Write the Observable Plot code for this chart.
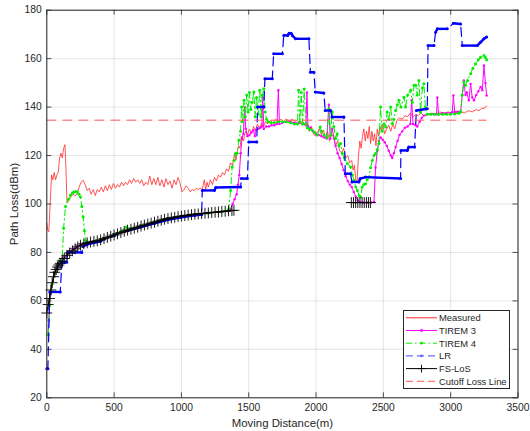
<!DOCTYPE html>
<html><head><meta charset="utf-8">
<script src="https://cdn.jsdelivr.net/npm/d3@7"></script>
<script src="https://cdn.jsdelivr.net/npm/@observablehq/plot@0.6"></script>
<style>
body{margin:0;background:#fff;font-family:"Liberation Sans",Arial,sans-serif;}
#wrap{position:relative;width:530px;height:431px;}
#legend{position:absolute;left:403px;top:310px;}
</style></head><body><div id="wrap"></div>
<script>
// ---- data (distance m, path loss dBm) ----
const xTicks = [0,500,1000,1500,2000,2500,3000,3500];
const yTicks = [20,40,60,80,100,120,140,160,180];
const cutoffLoss = 134.6;
const cutoffEnd = 3270;

const measured = [[0,92],[8,89],[15,88.5],[25,100],[35,112],[45,110],[55,113],[65,110],[75,112],[85,113],[95,119],[105,121],[115,119],[125,123],[135,124.5],[142,115],[150,100.5],[165,101.5],[180,103],[195,104],[210,103.5],[225,104],[240,107],[255,109],[270,109.8],[285,108],[300,105.5],[315,106.5],[330,104],[345,106],[360,103.5],[375,106],[390,105],[405,107],[420,105],[435,107.5],[450,105.5],[465,108],[480,106],[495,108.5],[510,106.5],[525,108],[540,107],[555,109],[570,107.5],[585,109],[600,108],[615,110],[630,108.5],[645,110.5],[660,109],[675,110],[690,108.5],[705,110],[720,107.5],[735,109],[750,108],[765,111.5],[780,108],[795,110.5],[810,108],[825,111],[840,107.5],[855,110],[870,107],[885,110.5],[900,108],[915,109.5],[930,106.5],[945,110],[960,108],[975,111],[990,108.5],[1005,105],[1020,106],[1035,107.5],[1050,106.5],[1065,105],[1080,106],[1095,105.5],[1110,106.5],[1125,106],[1140,106.5],[1155,106],[1170,110],[1180,106],[1190,109],[1200,107],[1215,110],[1230,108],[1245,111],[1260,109.5],[1275,112],[1290,111],[1305,113],[1320,112],[1335,114.5],[1350,113.5],[1365,117],[1380,116],[1395,121],[1405,118],[1415,122],[1425,124],[1435,123],[1445,128],[1460,126],[1475,130],[1490,128.5],[1505,131],[1520,129],[1535,132],[1550,130.5],[1565,133],[1580,131],[1595,133.5],[1610,132],[1625,134],[1640,133],[1660,134.5],[1680,133.5],[1700,135],[1720,134],[1740,135],[1760,134],[1780,135.2],[1800,134],[1820,135],[1840,134],[1860,134.5],[1880,133.5],[1900,134],[1920,133],[1935,133.5],[1950,130],[1965,132],[1980,129],[1995,128],[2010,129.5],[2025,131],[2040,128.5],[2055,130.5],[2070,127],[2085,130],[2100,126],[2115,129],[2130,127.5],[2145,124],[2160,126],[2175,122],[2190,121],[2205,123],[2220,119],[2235,120],[2250,117],[2265,118],[2275,114],[2285,116],[2295,110],[2305,109.5],[2315,120],[2325,126],[2335,123],[2345,128],[2355,131],[2365,126],[2375,130],[2385,127],[2395,132],[2405,125],[2415,130],[2425,126],[2435,129],[2445,124],[2455,131],[2465,128],[2475,132],[2485,130],[2495,133],[2510,129],[2525,131],[2540,132.5],[2555,130],[2570,133],[2585,131],[2600,134.5],[2620,135.5],[2640,135],[2660,136.5],[2680,136],[2700,137.5],[2720,136],[2740,137],[2760,136.5],[2780,137.5],[2800,136.5],[2830,137],[2860,137.5],[2890,137],[2920,138],[2950,137.5],[2980,138],[3010,137.5],[3040,138],[3070,138.5],[3100,137.5],[3130,138.5],[3160,138],[3190,139],[3210,138.5],[3230,139.5],[3250,139.5],[3265,140.5]];

const tirem3 = [[10,46],[15,52],[20,58],[30,63],[40,67],[55,71],[70,73.5],[85,75.5],[100,76.5],[125,78],[150,79],[175,80.5],[200,81.5],[225,82.3],[250,83],[300,84],[400,85],[500,87.3],[600,89.2],[700,90.9],[800,92.5],[900,94],[1000,95],[1100,95.8],[1200,96.3],[1300,96.8],[1350,97],[1365,98],[1380,100],[1395,102],[1410,104],[1420,108],[1430,112],[1440,121],[1450,127],[1460,129],[1470,140],[1478,131],[1490,128],[1505,128.5],[1520,129.5],[1535,130.5],[1545,128],[1555,130.5],[1570,131],[1585,131.5],[1598,132],[1604,144],[1612,131],[1630,132],[1650,132],[1670,132.5],[1690,132.5],[1710,133],[1720,147],[1728,133],[1750,133.5],[1780,134],[1810,134],[1840,133.5],[1870,133.5],[1900,133],[1925,132.5],[1932,146],[1940,132],[1960,131.5],[1980,130],[2000,129],[2020,128.5],[2040,128],[2060,127.5],[2080,127],[2095,141],[2105,127],[2120,131],[2135,127],[2145,124],[2160,121],[2175,119],[2190,116.5],[2205,114],[2220,111.5],[2235,109.5],[2250,108],[2265,107],[2280,105],[2295,103],[2310,101.5],[2325,100.8],[2350,100.6],[2380,100.6],[2410,100.6],[2430,100.8],[2442,115],[2455,122],[2467,126],[2480,127.5],[2495,126.5],[2510,125.5],[2525,124],[2540,122],[2555,120],[2566,119],[2578,121],[2591,123.5],[2605,126],[2620,128.5],[2640,130],[2660,131.5],[2680,132],[2700,133],[2710,142.8],[2720,133],[2740,132.5],[2752,132],[2770,134],[2785,135.5],[2800,136.5],[2825,137],[2850,137],[2875,137],[2895,137],[2901,144],[2910,137],[2940,137.5],[2970,137.5],[3000,137.5],[3012,138],[3020,144.8],[3030,138],[3050,138],[3074,138],[3086,145],[3098,151],[3110,145],[3120,146],[3135,142.8],[3148,149.6],[3160,144],[3173,142.8],[3190,145],[3205,146.5],[3222,148.3],[3235,147],[3247,157.2],[3258,150],[3267,144.8]];

const tirem4 = [[10,46],[20,58],[40,67],[60,71.5],[80,74],[100,76],[114,77.5],[125,90],[139,99],[160,102],[176,103.6],[190,104.5],[201,105],[215,105.2],[226,105],[240,104],[250,102.9],[260,99],[270,94.6],[280,89],[288,85],[300,84],[400,85.3],[500,87.4],[560,89],[590,90.5],[610,89.8],[700,91],[800,92.5],[900,94],[1000,95],[1100,95.8],[1200,96.3],[1300,96.8],[1345,97.2],[1352,98],[1365,105.6],[1377,115.3],[1390,118],[1402,120.8],[1414,121],[1427,126.3],[1439,130],[1447,140],[1455,134],[1465,142.8],[1475,136],[1485,145],[1495,138],[1505,146],[1515,139],[1525,142],[1538,146.2],[1548,136],[1558,144],[1570,137],[1582,147],[1592,136],[1600,145],[1612,147.6],[1622,138],[1632,135],[1645,134],[1665,133.5],[1690,133.5],[1720,134],[1750,134],[1780,134],[1810,133.5],[1840,133],[1862,133],[1870,147],[1880,134],[1890,146],[1900,133],[1912,147.5],[1925,133],[1935,131.5],[1950,131],[1970,130.5],[1990,129.5],[2010,128.5],[2030,131.8],[2040,130],[2060,128.5],[2080,127.5],[2095,139.3],[2108,128.3],[2120,138],[2132,132],[2145,127],[2157,129],[2170,124],[2182,125],[2195,120.8],[2210,119],[2232,116.7],[2256,115.3],[2270,112],[2281,109.8],[2295,107],[2306,105.6],[2320,103.5],[2331,102.9],[2343,107],[2355,108],[2368,108.4],[2380,110],[2393,111.1],[2405,115],[2418,118],[2430,120],[2442,120.8],[2455,122.5],[2467,125],[2479,140],[2490,130],[2505,133],[2517,131.8],[2528,138],[2540,135],[2554,140],[2566,133.2],[2578,135],[2591,138.6],[2604,141],[2616,142.8],[2630,140],[2653,144.1],[2665,140],[2680,145],[2702,147],[2715,142],[2728,149],[2740,149],[2752,145],[2764,151],[2776,138],[2790,148],[2801,149.6],[2812,140],[2826,137],[2851,137],[2880,137],[2910,137],[2940,137],[2970,137],[3000,137],[3030,137.2],[3060,137.5],[3074,138],[3086,145],[3098,150.4],[3110,149],[3125,151],[3148,153.8],[3165,156],[3185,157.9],[3205,159.5],[3222,160.6],[3247,161.3],[3258,160.5],[3267,159.5]];

const lr = [[0,32],[8,32],[22,63.7],[100,63.7],[112,76],[148,76],[155,80],[260,80],[270,82.5],[300,83.3],[400,84.6],[500,87],[600,89],[700,90.5],[800,92],[900,93.5],[1000,94.5],[1100,95.3],[1150,95.6],[1155,105.6],[1245,105.6],[1255,106.8],[1440,107],[1445,110.5],[1490,110.5],[1500,125.6],[1560,125.6],[1565,140],[1612,140],[1620,151.7],[1675,151.7],[1685,162],[1750,162],[1760,169.6],[1790,169.6],[1800,170.5],[1815,170.5],[1825,169.5],[1848,168.2],[1947,168.2],[1958,154.4],[1984,154.4],[1994,146.2],[2058,145.8],[2068,138.6],[2108,138.6],[2118,135.9],[2207,135.9],[2217,112.5],[2256,112.5],[2266,109.1],[2318,109.1],[2328,110.5],[2368,111.1],[2628,110.5],[2630,122.1],[2678,122.1],[2688,123.5],[2732,123.5],[2745,138.6],[2826,139.3],[2832,165.4],[2876,165.4],[2888,170.9],[2901,172.3],[2975,172.3],[3020,174.6],[3074,174.3],[3086,165.4],[3198,165.4],[3222,166.8],[3247,168.2],[3267,168.9]];

const fsLos1 = [[0,55],[10,58.5],[20,61],[30,64.5],[40,67.5],[50,70],[60,71.8],[70,73],[80,74],[90,74.8],[100,75.5],[115,76.5],[130,77.5],[150,78.8],[170,79.8],[190,80.7],[210,81.5],[230,82.3],[250,83],[275,83.6],[300,84],[325,84.3],[350,84.6],[375,84.8],[400,85.2],[425,85.7],[450,86.2],[475,86.7],[500,87.2],[525,87.7],[550,88.2],[575,88.7],[600,89.2],[625,89.6],[650,90],[675,90.4],[700,90.9],[725,91.3],[750,91.7],[775,92.1],[800,92.5],[825,92.9],[850,93.3],[875,93.7],[900,94],[925,94.3],[950,94.5],[975,94.8],[1000,95],[1025,95.2],[1050,95.4],[1075,95.6],[1100,95.8],[1125,95.9],[1150,96],[1175,96.2],[1200,96.3],[1225,96.5],[1250,96.6],[1275,96.7],[1300,96.9],[1325,97],[1350,97.2],[1375,97.3],[1390,97.4]];
const fsLos2 = [[2262,100.6],[2278,100.6],[2294,100.6],[2310,100.6],[2326,100.6],[2342,100.6],[2358,100.6],[2374,100.6],[2390,100.6],[2404,100.6]];

const seriesNames = ["Measured","TIREM 3","TIREM 4","LR","FS-LoS","Cutoff Loss Line"];

// ---- styles ----
const C = {meas:"#ff2a2a", t3:"#ff00ff", t4:"#00ee00", lr:"#0000ff", fs:"#000000", cut:"#ff5555"};
const X = d => d[0], Y = d => d[1];
const lrFlat = d3.pairs(lr).filter(([a,b]) => Math.abs(b[1]-a[1]) < 1.6);

const xTickLen = 37, yTickLen = 2.06;

const plot = Plot.plot({
  width: 530, height: 431,
  marginLeft: 46.3, marginRight: 12.5, marginTop: 9.7, marginBottom: 33.7,
  x: {domain: [0, 3500]},
  y: {domain: [20, 180]},
  style: {fontFamily: '"Liberation Sans", Arial, sans-serif', fontSize: "10.3px", color: "#262626", background: "white"},
  marks: [
    Plot.ruleX(xTicks, {stroke: "#000", strokeOpacity: 0.1, strokeWidth: 1}),
    Plot.ruleY(yTicks, {stroke: "#000", strokeOpacity: 0.1, strokeWidth: 1}),
    Plot.line(measured, {x: X, y: Y, stroke: C.meas, strokeWidth: 0.8}),
    Plot.line(tirem3, {x: X, y: Y, stroke: C.t3, strokeWidth: 1}),
    Plot.dot(tirem3, {x: X, y: Y, r: 1.2, fill: C.t3}),
    Plot.line(tirem4, {x: X, y: Y, stroke: C.t4, strokeWidth: 1, strokeDasharray: "6,3,1.5,3"}),
    Plot.dot(tirem4, {x: X, y: Y, r: 1.5, fill: C.t4}),
    Plot.line(lr, {x: X, y: Y, stroke: C.lr, strokeWidth: 1.2, strokeDasharray: "9,5"}),
    Plot.link(lrFlat, {x1: d => d[0][0], y1: d => d[0][1], x2: d => d[1][0], y2: d => d[1][1], stroke: C.lr, strokeWidth: 2.4}),
    Plot.dot(lr, {x: X, y: Y, r: 1.5, fill: C.lr}),
    Plot.line(fsLos1, {x: X, y: Y, stroke: C.fs, strokeWidth: 1}),
    Plot.dot(fsLos1, {x: X, y: Y, symbol: "plus", r: 3.6, stroke: C.fs, strokeWidth: 0.9}),
    Plot.line(fsLos2, {x: X, y: Y, stroke: C.fs, strokeWidth: 1}),
    Plot.dot(fsLos2, {x: X, y: Y, symbol: "plus", r: 3.6, stroke: C.fs, strokeWidth: 0.9}),
    Plot.ruleY([cutoffLoss], {x1: 0, x2: cutoffEnd, stroke: C.cut, strokeWidth: 1, strokeDasharray: "10,6"}),
    // inward ticks on all four sides
    Plot.ruleX(xTicks, {y1: 20, y2: 20 + yTickLen, stroke: "#262626", strokeWidth: 0.8}),
    Plot.ruleX(xTicks, {y1: 180 - yTickLen, y2: 180, stroke: "#262626", strokeWidth: 0.8}),
    Plot.ruleY(yTicks, {x1: 0, x2: xTickLen, stroke: "#262626", strokeWidth: 0.8}),
    Plot.ruleY(yTicks, {x1: 3500 - xTickLen, x2: 3500, stroke: "#262626", strokeWidth: 0.8}),
    Plot.frame({stroke: "#262626", strokeWidth: 1}),
    Plot.axisX(xTicks, {tickSize: 0, tickPadding: 6, label: null, fill: "#262626", tickFormat: d => String(d)}),
    Plot.axisY(yTicks, {tickSize: 0, tickPadding: 5, label: null, fill: "#262626", tickFormat: d => String(d)}),
    Plot.text(["Moving Distance(m)"], {frameAnchor: "bottom", dy: 26, lineAnchor: "middle", fontSize: 11.4, fill: "#262626"}),
    Plot.text(["Path Loss(dBm)"], {frameAnchor: "left", dx: -32, rotate: -90, lineAnchor: "middle", textAnchor: "middle", fontSize: 11.5, fill: "#262626"})
  ]
});
const wrap = document.getElementById("wrap");
wrap.appendChild(plot);

// ---- legend overlay ----
const lw = 107, lh = 79;
const leg = d3.create("svg").attr("id", "legend").attr("width", lw).attr("height", lh)
  .style("font-family", '"Liberation Sans", Arial, sans-serif').style("font-size", "9.4px");
leg.append("rect").attr("x", 0.5).attr("y", 0.5).attr("width", lw - 1).attr("height", lh - 1)
  .attr("fill", "white").attr("stroke", "#262626").attr("stroke-width", 1);
const styles = [
  {stroke: C.meas, dash: null, w: 1, marker: null},
  {stroke: C.t3, dash: null, w: 1, marker: "dot"},
  {stroke: C.t4, dash: "6,3,1.5,3", w: 1, marker: "dot"},
  {stroke: "#6a6aff", dash: "7,4", w: 1.2, marker: "dot"},
  {stroke: C.fs, dash: null, w: 1, marker: "plus"},
  {stroke: C.cut, dash: "7,4", w: 1, marker: null}
];
seriesNames.forEach((name, i) => {
  const y = 7.8 + i * 12.7, s = styles[i];
  const g = leg.append("g");
  g.append("line").attr("x1", 3).attr("x2", 34).attr("y1", y).attr("y2", y)
    .attr("stroke", s.stroke).attr("stroke-width", s.w).attr("stroke-dasharray", s.dash);
  if (s.marker === "dot") g.append("circle").attr("cx", 18.5).attr("cy", y).attr("r", 1.4).attr("fill", s.stroke);
  if (s.marker === "plus") g.append("path").attr("d", `M18.5,${y-4}V${y+4}M14.5,${y}H22.5`).attr("stroke", s.stroke).attr("stroke-width", 0.9);
  g.append("text").attr("x", 36).attr("y", y).attr("dy", "0.36em").attr("fill", "#262626").text(name);
});
wrap.appendChild(leg.node());
</script></body></html>
